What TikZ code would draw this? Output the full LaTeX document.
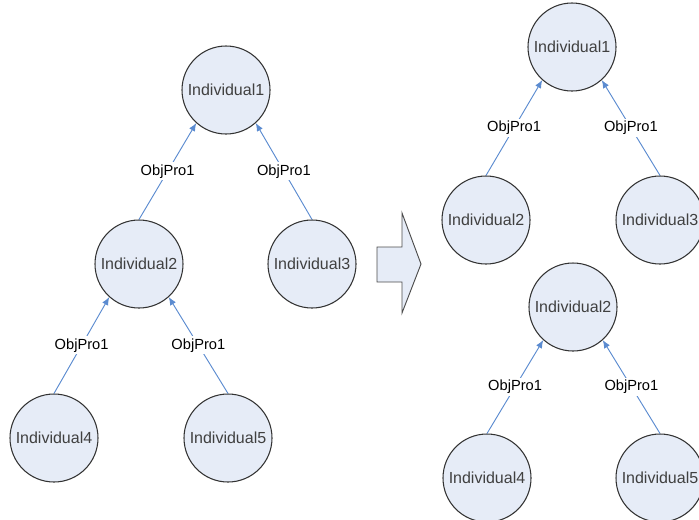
\documentclass[tikz,border=0pt]{standalone}
\usepackage{fontspec}
\setmainfont{Liberation Sans}
\definecolor{indfill}{HTML}{E6ECF7}
\definecolor{indtext}{HTML}{404040}
\definecolor{relline}{HTML}{5B8BD0}
\tikzset{
  indiv/.style={circle, draw=black!80, fill=indfill, line width=0.8pt, minimum size=66pt, inner sep=0pt, text=indtext, font=\fontsize{12}{14}\selectfont},
  rel/.style={draw=relline, line width=0.7pt, -{Latex[length=6pt,width=5pt]}},
  rellabel/.style={fill=white, inner sep=1.5pt, font=\fontsize{11}{13}\selectfont}
}
\usetikzlibrary{arrows.meta}
\begin{document}
\begin{tikzpicture}[x=0.75pt, y=-0.75pt]
\useasboundingbox (0,0) rectangle (699,519);

% left tree
\node[indiv] (a1) at (226,90) {Individual1};
\node[indiv] (a2) at (139,264) {Individual2};
\node[indiv] (a3) at (312,264) {Individual3};
\node[indiv] (a4) at (54,438) {Individual4};
\node[indiv] (a5) at (228,438) {Individual5};
\draw[rel] (a2.north) -- node[rellabel] {ObjPro1} (a1.-132);
\draw[rel] (a3.north) -- node[rellabel] {ObjPro1} (a1.-48);
\draw[rel] (a4.north) -- node[rellabel] {ObjPro1} (a2.-132);
\draw[rel] (a5.north) -- node[rellabel] {ObjPro1} (a2.-48);

% block arrow
\draw[draw=black!70, fill=indfill, line width=0.7pt]
  (377,247) -- (402,247) -- (402,213) -- (421,264) -- (402,313)
  -- (402,282) -- (377,282) -- cycle;

% right trees
\node[indiv] (b1) at (572,47) {Individual1};
\node[indiv] (b2) at (486,220) {Individual2};
\node[indiv] (b3) at (660,220) {Individual3};
\draw[rel] (b2.north) -- node[rellabel] {ObjPro1} (b1.-132);
\draw[rel] (b3.north) -- node[rellabel] {ObjPro1} (b1.-48);

\node[indiv] (c2) at (573,307) {Individual2};
\node[indiv] (c4) at (487,478) {Individual4};
\node[indiv] (c5) at (660,478) {Individual5};
\draw[rel] (c4.north) -- node[rellabel] {ObjPro1} (c2.-132);
\draw[rel] (c5.north) -- node[rellabel] {ObjPro1} (c2.-48);
\end{tikzpicture}
\end{document}
